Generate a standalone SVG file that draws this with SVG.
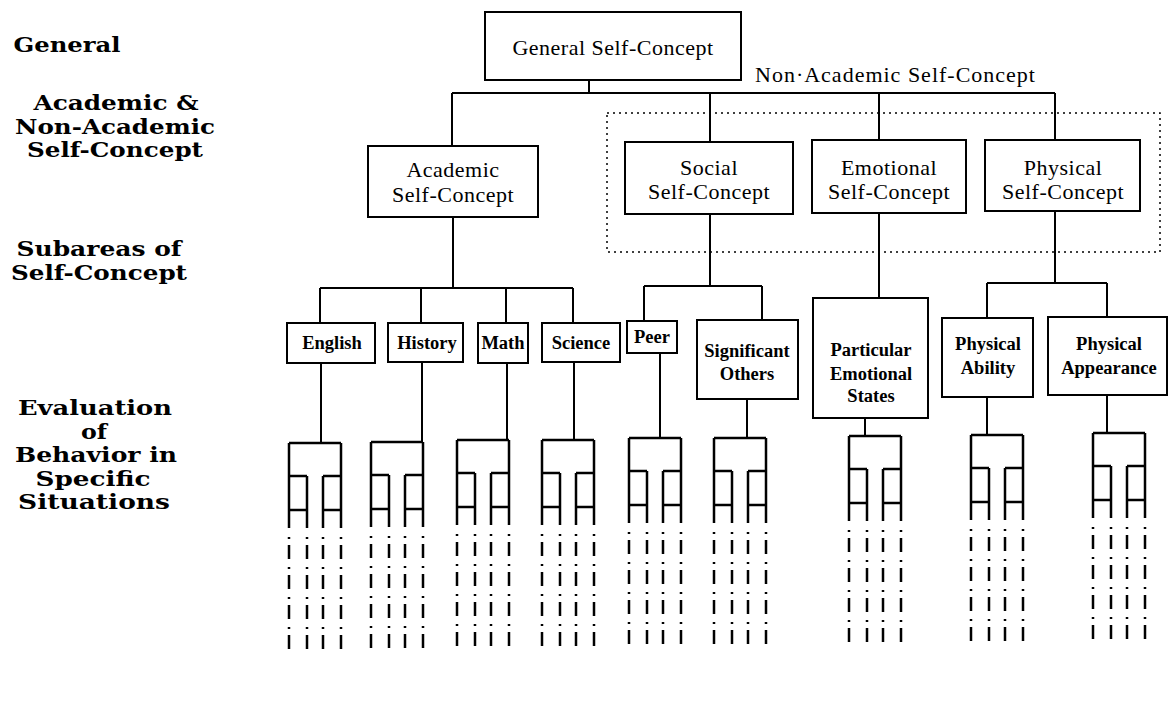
<svg xmlns="http://www.w3.org/2000/svg" width="1171" height="702" viewBox="0 0 1171 702">
<style>
.box{fill:#fff;stroke:#000;stroke-width:2}
.ln{fill:none;stroke:#000;stroke-width:2}
.lf{fill:none;stroke:#000;stroke-width:2.5}
.dd{fill:none;stroke:#000;stroke-width:2.5;stroke-dasharray:2 6 14 8}
.dot{fill:none;stroke:#000;stroke-width:1.5;stroke-dasharray:2 4}
.t{font-family:"Liberation Serif","Times New Roman",serif;font-size:22px;letter-spacing:0.5px;text-anchor:middle;fill:#000}
.s{font-family:"Liberation Serif","Times New Roman",serif;font-size:18.5px;font-weight:bold;text-anchor:middle;fill:#000}
.side{font-family:"DejaVu Serif",serif;font-weight:bold;font-size:19.5px;text-anchor:middle;fill:#000}
</style>
<defs>
<g id="leaf">
<path class="lf" d="M0,0H52M0,0V85M52,0V85M18,33V85M34,33V85M0,33H18M34,33H52M0,67H18M34,67H52"/>
<path class="dd" d="M0,94V207M18,94V207M34,94V207M52,94V207"/>
</g>
</defs>
<rect width="1171" height="702" fill="#fff"/>

<g id="level-labels">
<text class="side" x="67" y="52" textLength="107" lengthAdjust="spacingAndGlyphs">General</text>
<text class="side" x="116" y="110" textLength="165" lengthAdjust="spacingAndGlyphs">Academic &amp;</text>
<text class="side" x="115" y="133.5" textLength="200" lengthAdjust="spacingAndGlyphs">Non-Academic</text>
<text class="side" x="115" y="157" textLength="176" lengthAdjust="spacingAndGlyphs">Self-Concept</text>
<text class="side" x="99" y="256" textLength="165" lengthAdjust="spacingAndGlyphs">Subareas of</text>
<text class="side" x="99" y="279.5" textLength="176" lengthAdjust="spacingAndGlyphs">Self-Concept</text>
<text class="side" x="95" y="415" textLength="154" lengthAdjust="spacingAndGlyphs">Evaluation</text>
<text class="side" x="94" y="438.5" textLength="26" lengthAdjust="spacingAndGlyphs">of</text>
<text class="side" x="96" y="462" textLength="162" lengthAdjust="spacingAndGlyphs">Behavior in</text>
<text class="side" x="93" y="485.5" textLength="115" lengthAdjust="spacingAndGlyphs">Specific</text>
<text class="side" x="94" y="509" textLength="152" lengthAdjust="spacingAndGlyphs">Situations</text>
</g>

<g id="non-academic-group">
<rect class="dot" x="607" y="113" width="553" height="139"/>
<text class="t" x="755" y="82" style="text-anchor:start;letter-spacing:1px">Non·Academic Self-Concept</text>
</g>

<g id="connectors">
<path class="ln" d="M589,80V93M452,93H1055M452,93V146M710,93V142M879,93V140M1055,93V140
M453,217V288M320,288H573M320,288V323M421,288V323M506,288V323M573,288V323
M710,214V286M644,286H762M644,286V321M762,286V320
M879,213V298
M1055,211V283M987,283H1107M987,283V318M1107,283V317
M321,363V443M422,362V442M507,363V440M574,362V440M660,353V438M747,399V438M865,418V436M987,397V435M1107,395V433"/>
</g>

<g id="general">
<rect class="box" x="485" y="12" width="256" height="68"/>
<text class="t" x="613" y="55">General Self-Concept</text>
</g>
<g id="academic">
<rect class="box" x="368" y="146" width="170" height="71"/>
<text class="t" x="453" y="177">Academic</text>
<text class="t" x="453" y="202">Self-Concept</text>
</g>
<g id="social">
<rect class="box" x="625" y="142" width="168" height="72"/>
<text class="t" x="709" y="175">Social</text>
<text class="t" x="709" y="199">Self-Concept</text>
</g>
<g id="emotional">
<rect class="box" x="812" y="140" width="154" height="73"/>
<text class="t" x="889" y="175">Emotional</text>
<text class="t" x="889" y="199">Self-Concept</text>
</g>
<g id="physical">
<rect class="box" x="985" y="140" width="155" height="71"/>
<text class="t" x="1063" y="175">Physical</text>
<text class="t" x="1063" y="199">Self-Concept</text>
</g>

<g id="english">
<rect class="box" x="287" y="323" width="88" height="40"/>
<text class="s" x="332" y="349">English</text>
</g>
<g id="history">
<rect class="box" x="388" y="323" width="75" height="39"/>
<text class="s" x="427" y="349">History</text>
</g>
<g id="math">
<rect class="box" x="478" y="323" width="50" height="40"/>
<text class="s" x="503" y="349">Math</text>
</g>
<g id="science">
<rect class="box" x="542" y="323" width="78" height="39"/>
<text class="s" x="581" y="349">Science</text>
</g>
<g id="peer">
<rect class="box" x="627" y="321" width="50" height="32"/>
<text class="s" x="652" y="343">Peer</text>
</g>
<g id="significant-others">
<rect class="box" x="697" y="320" width="101" height="79"/>
<text class="s" x="747" y="357">Significant</text>
<text class="s" x="747" y="380">Others</text>
</g>
<g id="particular-emotional-states">
<rect class="box" x="813" y="298" width="115" height="120"/>
<text class="s" x="871" y="356">Particular</text>
<text class="s" x="871" y="380">Emotional</text>
<text class="s" x="871" y="402">States</text>
</g>
<g id="physical-ability">
<rect class="box" x="942" y="318" width="91" height="79"/>
<text class="s" x="988" y="350">Physical</text>
<text class="s" x="988" y="374">Ability</text>
</g>
<g id="physical-appearance">
<rect class="box" x="1048" y="317" width="119" height="78"/>
<text class="s" x="1109" y="350">Physical</text>
<text class="s" x="1109" y="374">Appearance</text>
</g>

<g id="leaf-english"><use href="#leaf" x="289" y="443"/></g>
<g id="leaf-history"><use href="#leaf" x="371" y="442"/></g>
<g id="leaf-math"><use href="#leaf" x="457" y="440"/></g>
<g id="leaf-science"><use href="#leaf" x="542" y="440"/></g>
<g id="leaf-peer"><use href="#leaf" x="629" y="438"/></g>
<g id="leaf-significant"><use href="#leaf" x="714" y="438"/></g>
<g id="leaf-particular"><use href="#leaf" x="849" y="436"/></g>
<g id="leaf-ability"><use href="#leaf" x="971" y="435"/></g>
<g id="leaf-appearance"><use href="#leaf" x="1093" y="433"/></g>
</svg>
